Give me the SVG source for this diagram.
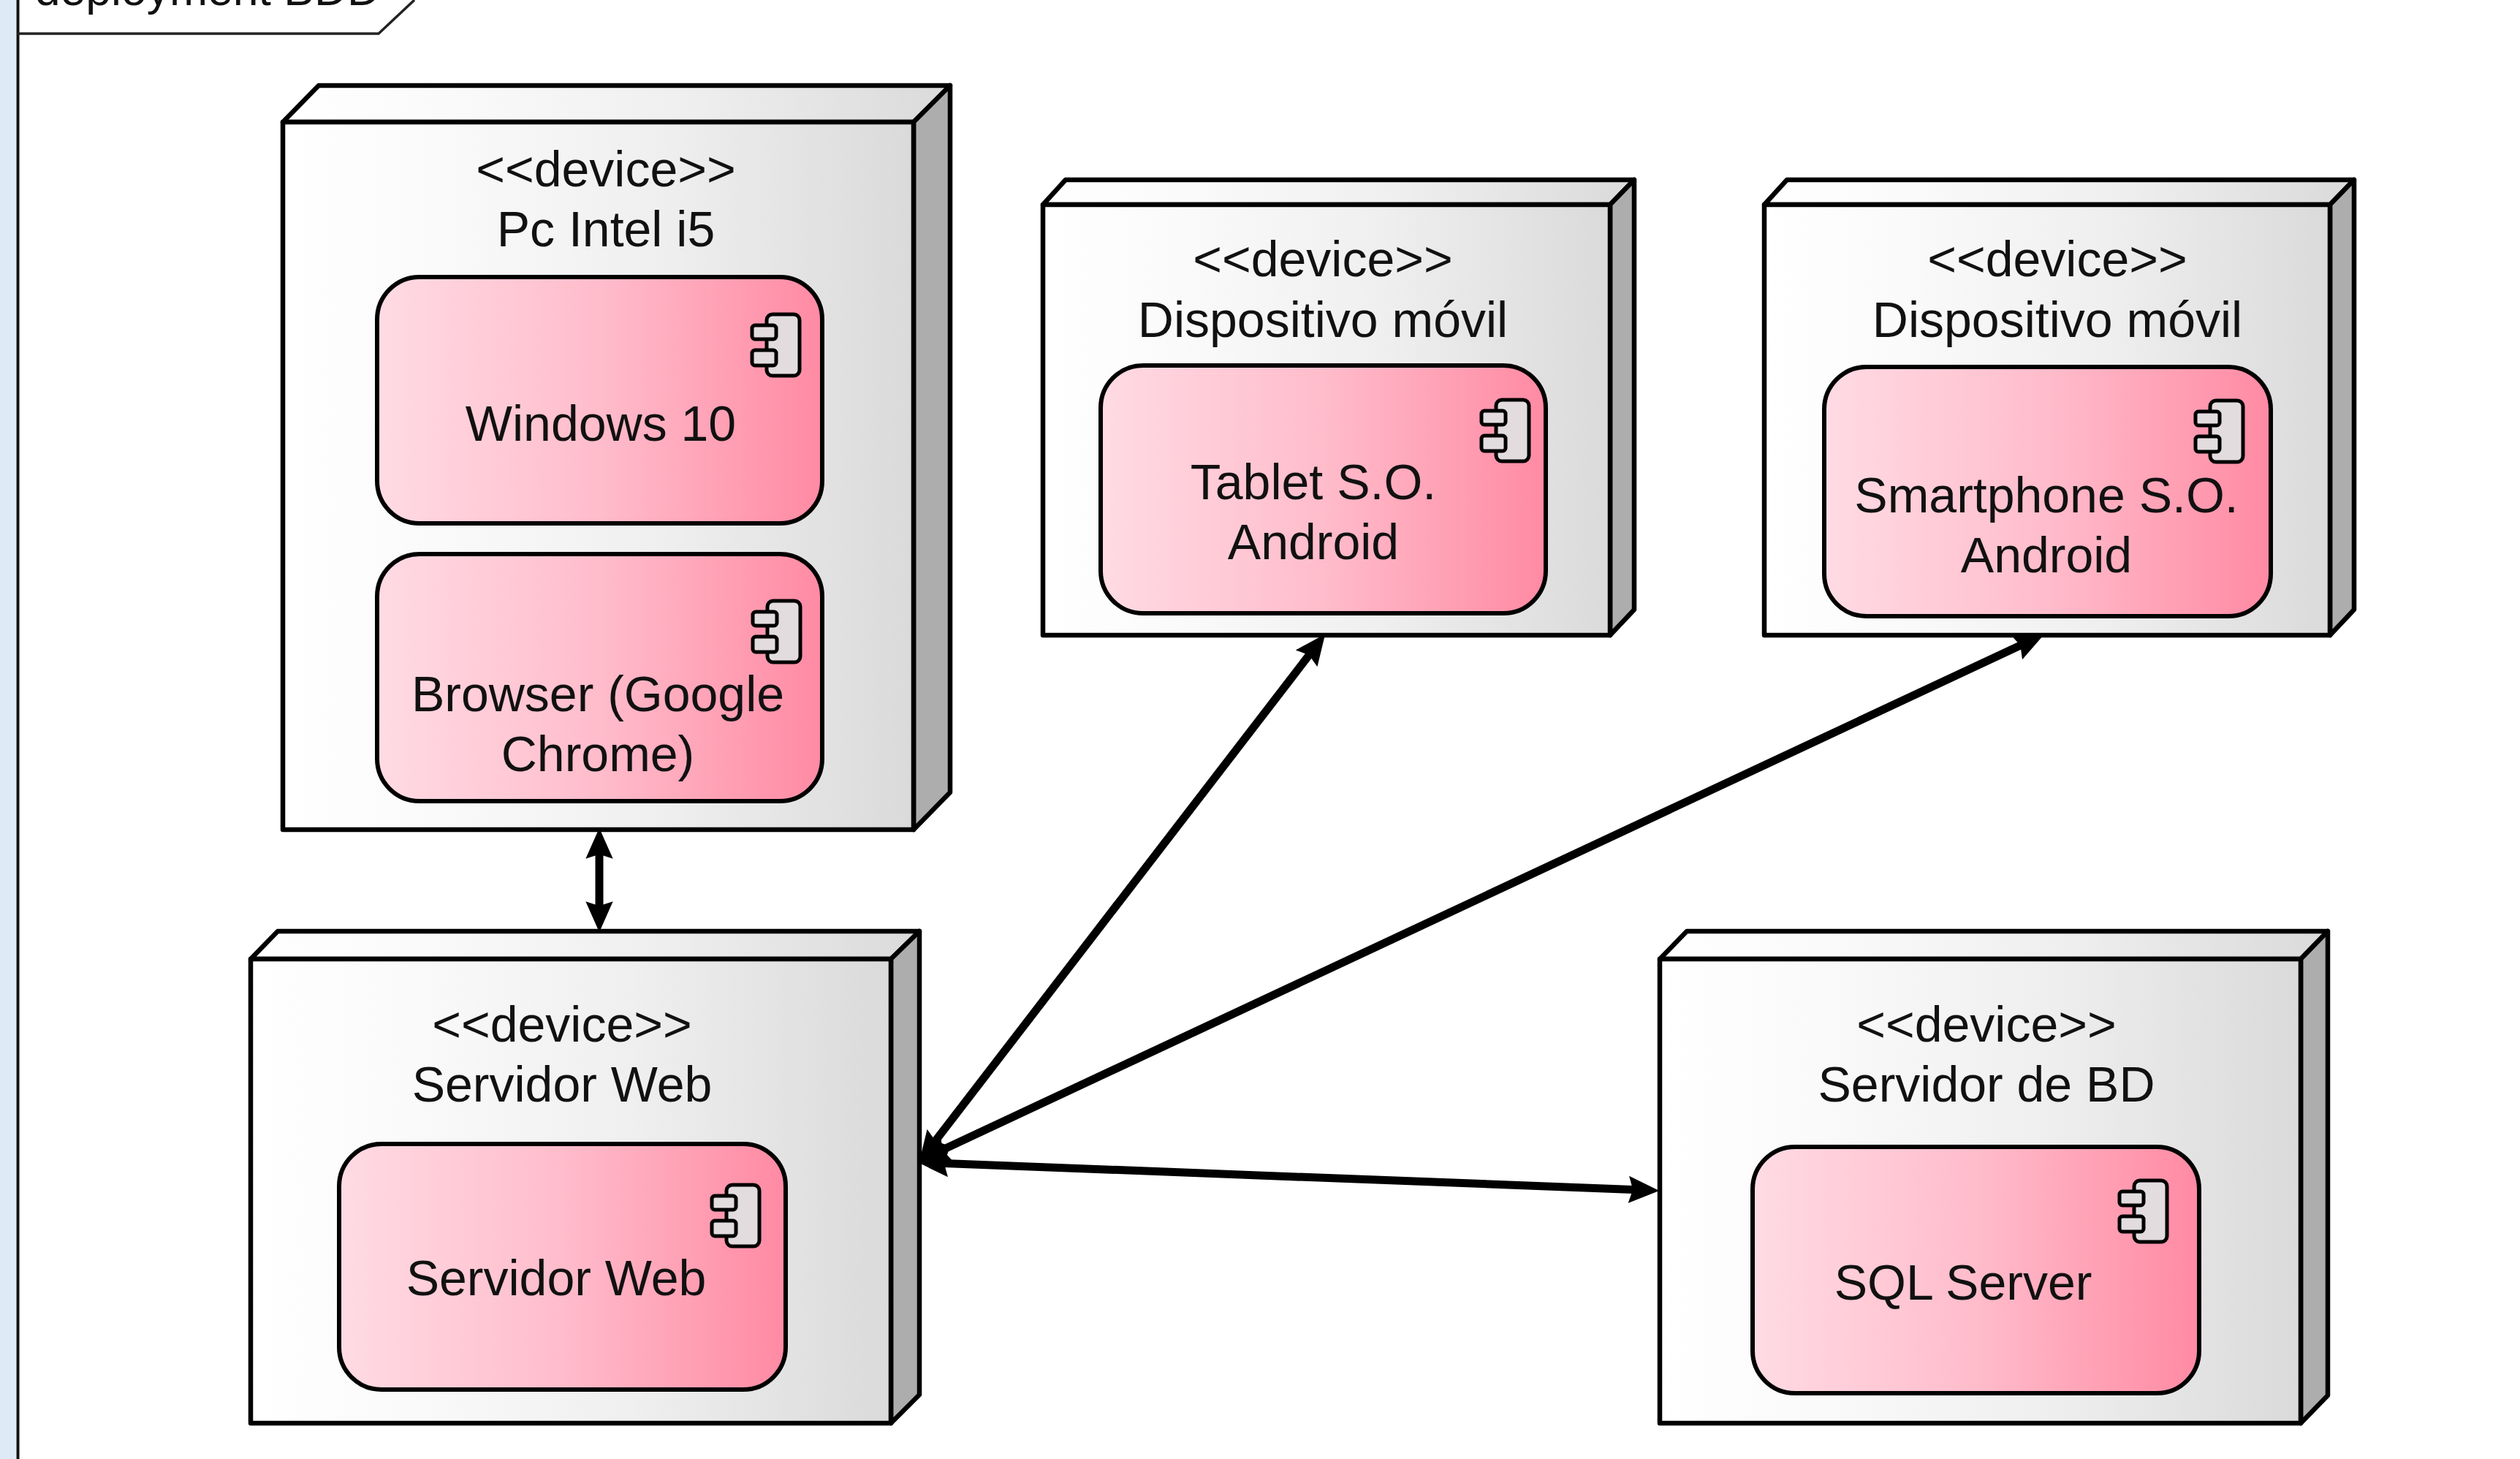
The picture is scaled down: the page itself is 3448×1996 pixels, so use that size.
<svg xmlns="http://www.w3.org/2000/svg" width="3448" height="1996" viewBox="0 0 3448 1996">
<style>
text{font-family:"Liberation Sans",Arial,sans-serif;font-size:68px;fill:#111;text-anchor:middle}
.body{fill:url(#ng);stroke:#000;stroke-width:6.500;stroke-linejoin:round}
.side{fill:#adadad;stroke:#000;stroke-width:6.500;stroke-linejoin:round}
.comp{fill:url(#cg);stroke:#000;stroke-width:6}
.ic{fill:#e2dcde;stroke:#000;stroke-width:5}
.link{fill:none;stroke:#000;stroke-width:11;marker-start:url(#ah);marker-end:url(#ah)}
</style>
<defs>
<linearGradient id="ng" x1="0" y1="0" x2="1" y2="0"><stop offset="0" stop-color="#fff"/><stop offset=".25" stop-color="#fafafa"/><stop offset=".6" stop-color="#efefef"/><stop offset="1" stop-color="#dadada"/></linearGradient>
<linearGradient id="cg" x1="0" y1="0" x2="1" y2="0"><stop offset="0" stop-color="#ffdbe4"/><stop offset=".5" stop-color="#ffbccb"/><stop offset="1" stop-color="#ff8aa3"/></linearGradient>
<marker id="ah" markerUnits="userSpaceOnUse" markerWidth="42" markerHeight="38" viewBox="0 0 36 32" refX="16" refY="16" orient="auto-start-reverse"><path d="M0 0L36 16L0 32L5 16Z" fill="#000"/></marker>
<g id="icon">
<rect class="ic" x="20" y="0" width="45" height="84" rx="8"/>
<rect class="ic" x="0" y="15" width="33" height="19" rx="4"/>
<rect class="ic" x="0" y="49" width="33" height="21" rx="4"/>
</g>
</defs>
<rect width="3448" height="1996" fill="#fff"/>
<g id="frame">
<rect x="0" y="0" width="22" height="1996" fill="#dfeaf7"/>
<path d="M24.500 0V1996" stroke="#111" stroke-width="4" fill="none"/>
<path d="M24 46H518L567 0" fill="#fff" stroke="#222" stroke-width="3.500"/>
<text x="284" y="7" style="font-size:62.500px">deployment BDD</text>
</g>
<g id="node-pc">
<path class="body" d="M387 167L436 117H1300L1250 167Z"/>
<path class="side" d="M1250 167L1300 117V1084L1250 1135Z"/>
<rect class="body" x="387" y="167" width="863" height="968"/>
<text x="829" y="255">&lt;&lt;device&gt;&gt;</text>
<text x="829" y="337">Pc Intel i5</text>
<g id="comp-windows">
<rect class="comp" x="516" y="379" width="609" height="337" rx="58"/>
<use href="#icon" x="1029" y="430"/>
<text x="822" y="603">Windows 10</text>
</g>
<g id="comp-browser">
<rect class="comp" x="516" y="758" width="609" height="338" rx="58"/>
<use href="#icon" x="1030" y="822"/>
<text x="818" y="973">Browser (Google</text>
<text x="818" y="1055">Chrome)</text>
</g>
</g>
<g id="node-tablet">
<path class="body" d="M1427 280L1458 246H2236L2203 280Z"/>
<path class="side" d="M2203 280L2236 246V834L2203 869Z"/>
<rect class="body" x="1427" y="280" width="776" height="589"/>
<text x="1810" y="378">&lt;&lt;device&gt;&gt;</text>
<text x="1810" y="461">Dispositivo móvil</text>
<g id="comp-tablet">
<rect class="comp" x="1506" y="500" width="609" height="339" rx="58"/>
<use href="#icon" x="2027" y="547"/>
<text x="1797" y="683">Tablet S.O.</text>
<text x="1797" y="765">Android</text>
</g>
</g>
<g id="node-smartphone">
<path class="body" d="M2414 280L2445 246H3221L3188 280Z"/>
<path class="side" d="M3188 280L3221 246V834L3188 869Z"/>
<rect class="body" x="2414" y="280" width="774" height="589"/>
<text x="2815" y="378">&lt;&lt;device&gt;&gt;</text>
<text x="2815" y="461">Dispositivo móvil</text>
<g id="comp-smartphone">
<rect class="comp" x="2496" y="502" width="611" height="341" rx="58"/>
<use href="#icon" x="3004" y="548"/>
<text x="2800" y="701">Smartphone S.O.</text>
<text x="2800" y="783">Android</text>
</g>
</g>
<g id="node-web">
<path class="body" d="M343 1312L380 1274H1258L1219 1312Z"/>
<path class="side" d="M1219 1312L1258 1274V1908L1219 1947Z"/>
<rect class="body" x="343" y="1312" width="876" height="635"/>
<text x="769" y="1425">&lt;&lt;device&gt;&gt;</text>
<text x="769" y="1507">Servidor Web</text>
<g id="comp-web">
<rect class="comp" x="464" y="1565" width="611" height="336" rx="58"/>
<use href="#icon" x="974" y="1621"/>
<text x="761" y="1772">Servidor Web</text>
</g>
</g>
<g id="node-db">
<path class="body" d="M2271 1312L2308 1274H3185L3148 1312Z"/>
<path class="side" d="M3148 1312L3185 1274V1909L3148 1947Z"/>
<rect class="body" x="2271" y="1312" width="877" height="635"/>
<text x="2718" y="1425">&lt;&lt;device&gt;&gt;</text>
<text x="2718" y="1507">Servidor de BD</text>
<g id="comp-db">
<rect class="comp" x="2398" y="1569" width="611" height="337" rx="58"/>
<use href="#icon" x="2900" y="1615"/>
<text x="2686" y="1778">SQL Server</text>
</g>
</g>
<g id="connectors">
<path class="link" d="M820 1156V1252"/>
<path class="link" d="M1799 886L1272 1571"/>
<path class="link" d="M2776 877.500L1278 1578.500"/>
<path class="link" d="M1279 1591L2247 1628"/>
</g>
</svg>
